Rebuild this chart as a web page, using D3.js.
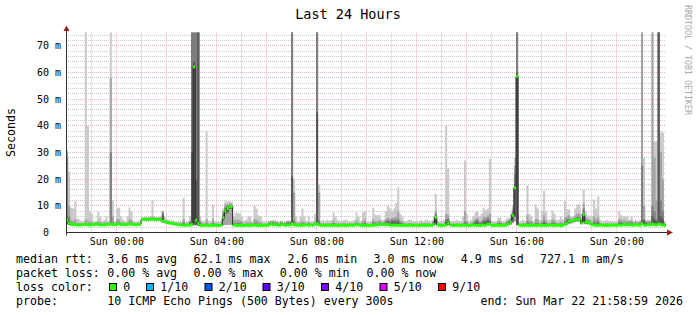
<!DOCTYPE html>
<html><head><meta charset="utf-8">
<script src="https://cdn.jsdelivr.net/npm/d3@7"></script>
<style>
html,body{margin:0;padding:0;background:#fff;}
svg{display:block;}
text{font-family:'DejaVu Sans Mono',monospace;white-space:pre;}
</style></head><body>
<svg id="chart" width="697" height="315"></svg>
<script>
// ---------- data (ms) ----------
const title = "Last 24 Hours";
const yAxisTitle = "Seconds";
const credit = "RRDTOOL / TOBI OETIKER";
const endTime = "2026-03-22T21:58:59Z";
const stepSeconds = 300;
const yTickValues = [0, 10, 20, 30, 40, 50, 60, 70];
const yTickLabels = ["0  ", "10 m", "20 m", "30 m", "40 m", "50 m", "60 m", "70 m"];
const xTickTimes = ["2026-03-22T00:00:00Z","2026-03-22T04:00:00Z","2026-03-22T08:00:00Z","2026-03-22T12:00:00Z","2026-03-22T16:00:00Z","2026-03-22T20:00:00Z"];
const xTickLabels = ["Sun 00:00","Sun 04:00","Sun 08:00","Sun 12:00","Sun 16:00","Sun 20:00"];

const median = [
4.5,3.6,3.0,2.9,3.0,2.8,2.8,2.9,3.0,3.1,2.9,2.8,
3.0,2.9,3.2,3.0,2.8,2.9,2.8,3.0,3.1,3.2,3.0,2.9,
3.1,3.3,3.0,3.1,2.9,3.0,3.2,3.1,3.0,2.9,3.0,3.1,
4.9,5.0,4.9,5.0,5.0,5.1,5.0,4.9,5.0,4.9,4.2,4.0,
3.8,3.6,3.5,3.3,3.2,3.0,2.9,2.8,2.7,2.7,2.8,2.7,
3.0,62.1,4.6,3.4,2.7,2.6,2.7,2.7,2.6,2.7,2.6,2.7,
2.7,2.6,2.8,5.5,8.0,9.0,9.6,9.8,2.8,2.7,2.6,2.7,
2.7,2.6,2.7,2.6,2.7,2.7,2.8,2.7,2.6,2.7,2.6,2.7,
2.7,2.8,3.4,2.9,3.0,2.8,2.7,3.3,2.8,2.7,2.9,2.8,
3.3,2.9,2.7,2.8,2.7,2.7,2.8,2.9,2.7,2.8,2.7,3.2,
3.3,2.8,2.7,2.7,2.6,2.7,2.7,2.6,2.7,2.7,2.6,2.7,
2.7,2.7,2.6,2.7,2.8,2.7,2.7,3.1,2.8,2.7,2.7,2.6,
2.7,2.6,2.7,2.7,2.8,2.9,3.0,3.1,3.0,2.9,3.0,2.8,
2.7,2.8,2.7,2.7,2.6,2.7,2.7,2.6,2.7,2.7,2.6,2.7,
2.7,2.6,2.7,2.7,2.6,2.7,2.7,2.6,3.0,5.6,2.8,2.7,
2.6,2.7,2.8,3.7,2.8,2.7,2.6,2.7,2.7,2.6,2.7,2.7,
2.7,2.6,2.7,2.8,2.7,2.7,2.6,2.7,2.8,2.7,3.2,3.0,
2.7,2.6,2.7,2.7,2.6,2.7,2.7,2.8,3.2,3.8,6.5,16.8,
58.6,2.8,2.7,2.6,2.7,2.7,2.6,2.7,2.7,2.6,2.7,2.7,
2.7,2.6,2.7,2.7,2.8,2.7,2.6,2.7,2.7,2.6,2.7,3.0,
3.5,4.2,4.2,4.5,4.9,4.9,4.9,3.7,6.7,3.9,3.8,3.5,
2.9,2.8,2.7,2.7,2.8,2.7,2.7,2.6,2.7,2.7,2.8,2.7,
2.7,2.8,2.7,2.9,3.0,2.8,3.1,2.8,2.7,2.9,2.8,2.7,
3.3,2.8,2.7,3.0,2.8,3.2,2.9,2.8,3.3,2.9,2.8,2.7];

const minPing = [
3.0,2.8,2.6,2.5,2.6,2.5,2.5,2.5,2.6,2.6,2.5,2.5,
2.6,2.5,2.7,2.6,2.5,2.5,2.5,2.6,2.6,2.7,2.6,2.5,
2.7,2.8,2.6,2.7,2.5,2.6,2.7,2.7,2.6,2.5,2.6,2.7,
4.4,4.5,4.4,4.5,4.5,4.6,4.5,4.4,4.5,4.4,3.6,3.5,
3.3,3.2,3.1,3.0,2.8,2.7,2.6,2.5,2.4,2.4,2.5,2.4,
2.6,2.7,2.7,2.5,2.4,2.3,2.4,2.4,2.3,2.4,2.3,2.4,
2.4,2.3,2.5,2.6,2.8,2.8,2.9,2.9,2.5,2.4,2.3,2.4,
2.4,2.3,2.4,2.3,2.4,2.4,2.5,2.4,2.3,2.4,2.3,2.4,
2.4,2.5,2.6,2.5,2.6,2.5,2.4,2.6,2.5,2.4,2.5,2.5,
2.6,2.5,2.4,2.5,2.4,2.4,2.5,2.5,2.4,2.5,2.4,2.6,
2.6,2.5,2.4,2.4,2.3,2.4,2.4,2.3,2.4,2.4,2.3,2.4,
2.4,2.4,2.3,2.4,2.5,2.4,2.4,2.6,2.5,2.4,2.4,2.3,
2.4,2.3,2.4,2.4,2.5,2.6,2.6,2.7,2.6,2.5,2.6,2.5,
2.4,2.5,2.4,2.4,2.3,2.4,2.4,2.3,2.4,2.4,2.3,2.4,
2.4,2.3,2.4,2.4,2.3,2.4,2.4,2.3,2.6,3.0,2.5,2.4,
2.3,2.4,2.5,2.8,2.5,2.4,2.3,2.4,2.4,2.3,2.4,2.4,
2.4,2.3,2.4,2.5,2.4,2.4,2.3,2.4,2.5,2.4,2.7,2.6,
2.4,2.3,2.4,2.4,2.3,2.4,2.4,2.5,2.7,2.9,3.5,4.0,
2.7,2.5,2.4,2.3,2.4,2.4,2.3,2.4,2.4,2.3,2.4,2.4,
2.4,2.3,2.4,2.4,2.5,2.4,2.3,2.4,2.4,2.3,2.4,2.6,
2.9,3.3,3.4,3.6,3.9,4.0,4.0,3.0,3.5,3.1,3.1,2.9,
2.6,2.5,2.4,2.4,2.5,2.4,2.4,2.3,2.4,2.4,2.5,2.4,
2.4,2.5,2.4,2.6,2.6,2.5,2.7,2.5,2.4,2.6,2.5,2.4,
2.8,2.5,2.4,2.6,2.5,2.7,2.6,2.5,2.8,2.6,2.5,2.4];

const lowPing = [
3.4,3.0,2.8,2.7,2.8,2.7,2.7,2.7,2.8,2.8,2.7,2.7,
2.8,2.7,2.9,2.8,2.7,2.7,2.7,2.8,2.8,2.9,2.8,2.7,
2.9,3.0,2.8,2.9,2.7,2.8,2.9,2.9,2.8,2.7,2.8,2.9,
4.6,4.7,4.6,4.7,4.7,4.8,4.7,4.6,4.7,4.6,3.8,3.7,
3.5,3.4,3.3,3.2,3.0,2.9,2.8,2.7,2.6,2.6,2.7,2.6,
2.8,2.9,2.9,2.7,2.6,2.5,2.6,2.6,2.5,2.6,2.5,2.6,
2.6,2.5,2.7,4.5,7.0,7.5,8.8,9.0,2.7,2.6,2.5,2.6,
2.6,2.5,2.6,2.5,2.6,2.6,2.7,2.6,2.5,2.6,2.5,2.6,
2.6,2.7,2.8,2.7,2.8,2.7,2.6,2.8,2.7,2.6,2.7,2.7,
2.8,2.7,2.6,2.7,2.6,2.6,2.7,2.7,2.6,2.7,2.6,2.8,
2.8,2.7,2.6,2.6,2.5,2.6,2.6,2.5,2.6,2.6,2.5,2.6,
2.6,2.6,2.5,2.6,2.7,2.6,2.6,2.8,2.7,2.6,2.6,2.5,
2.6,2.5,2.6,2.6,2.7,2.8,2.8,2.9,2.8,2.7,2.8,2.7,
2.6,2.7,2.6,2.6,2.5,2.6,2.6,2.5,2.6,2.6,2.5,2.6,
2.6,2.5,2.6,2.6,2.5,2.6,2.6,2.5,2.8,3.5,2.7,2.6,
2.5,2.6,2.7,3.0,2.7,2.6,2.5,2.6,2.6,2.5,2.6,2.6,
2.6,2.5,2.6,2.7,2.6,2.6,2.5,2.6,2.7,2.6,2.9,2.8,
2.6,2.5,2.6,2.6,2.5,2.6,2.6,2.7,2.9,3.2,4.5,6.0,
3.0,2.7,2.6,2.5,2.6,2.6,2.5,2.6,2.6,2.5,2.6,2.6,
2.6,2.5,2.6,2.6,2.7,2.6,2.5,2.6,2.6,2.5,2.6,2.8,
3.1,3.6,3.7,3.9,4.2,4.3,4.3,3.2,4.0,3.3,3.3,3.1,
2.7,2.7,2.6,2.6,2.7,2.6,2.6,2.5,2.6,2.6,2.7,2.6,
2.6,2.7,2.6,2.8,2.8,2.7,2.9,2.7,2.6,2.8,2.7,2.6,
3.0,2.7,2.6,2.8,2.7,2.9,2.8,2.7,3.0,2.8,2.7,2.6];

const ping7 = [
5,4,3.1,3.0,3.1,2.9,2.9,3.0,3.1,3.2,3.0,2.9,
3.1,3.0,3.3,3.1,2.9,3.0,2.9,3.1,3.2,3.3,3.1,3.0,
3.2,3.4,3.1,3.2,3.0,3.1,3.3,3.2,3.1,3.0,3.1,3.2,
5.0,5.1,5.0,5.1,5.1,5.2,5.1,5.0,5.1,5.0,6.5,4.1,
3.9,3.7,3.6,3.4,3.3,3.1,3.0,2.9,2.8,2.8,2.9,3.4,
30,64,20,80,3.2,2.7,2.8,2.8,2.7,2.8,2.7,2.8,
2.8,2.7,2.9,6,8.5,9.2,9.9,10,2.9,2.9,2.8,2.9,
2.8,2.7,2.8,2.7,2.8,2.8,3.0,2.8,2.7,2.8,2.7,2.8,
2.8,3.3,3.6,3.4,3.4,3.2,2.9,3.5,3.0,3.2,3.6,3.4,
21,3.2,2.8,2.9,2.8,2.8,2.9,3.0,2.8,2.9,2.8,3.3,
45,3.0,2.8,2.8,2.7,2.8,2.8,2.7,2.9,2.8,2.7,2.8,
2.8,2.8,2.7,2.8,2.9,2.8,2.8,3.2,2.9,2.8,2.9,3.0,
2.8,2.7,2.8,3.2,3.0,3.1,3.3,3.2,3.1,3.4,3.8,3.4,
4.0,4.0,3.6,4.0,3.2,3.0,2.8,2.7,2.8,2.8,2.7,2.8,
2.8,2.7,2.8,2.8,2.7,2.8,2.8,2.7,3.8,6,2.9,2.8,
2.7,2.8,4.0,4.5,2.9,2.8,2.7,2.8,2.8,2.7,2.8,3.2,
3.0,2.7,2.8,3.2,3.6,4.0,3.2,3.4,4.0,4.0,4.5,4.0,
2.8,2.7,2.8,3.2,3.2,2.8,2.8,3.2,3.8,4.5,7,18,
60,2.9,2.8,2.7,2.8,3.2,3.0,2.9,2.8,3.0,3.0,2.8,
3.0,3.5,3.0,2.8,2.9,3.2,3.0,2.8,2.8,2.9,2.8,3.4,
4.2,4.6,4.4,4.7,5.1,5.1,5.1,4.0,7,4.3,4.1,3.8,
3.1,3.5,3.3,3.5,2.9,2.8,2.8,2.7,2.8,2.8,2.9,2.8,
2.8,3.4,3.4,3.3,3.3,3.2,3.4,3.4,2.9,3.3,3.0,3.2,
4.5,4.2,3.4,3.4,3.3,6,5,4.2,80,6,5,3.0];

const ping8 = [
28,6,3.4,3.3,3.6,3.1,3.1,3.2,3.3,3.6,3.3,3.4,
3.4,3.2,3.5,3.4,3.2,3.2,3.2,3.4,3.4,30,3.8,3.2,
3.8,3.8,3.4,3.4,3.2,3.3,3.8,3.6,3.3,3.2,3.3,3.4,
5.2,5.2,5.2,5.2,5.3,5.5,5.2,5.2,5.2,5.2,7.5,4.4,
4.1,3.9,3.8,3.6,3.4,3.3,3.2,3.1,3.8,3.0,3.1,3.9,
80,80,80,80,3.8,3.0,3.0,3.5,3.0,3.0,3.6,3.0,
3.0,2.9,3.1,7,9.5,9.8,10.2,10.2,3.4,3.6,3.6,3.5,
3.4,3.0,3.2,3.1,3.2,3.0,3.6,3.5,3.2,3.1,3.0,3.0,
3.1,3.6,4.0,3.8,3.8,3.5,3.2,3.8,3.3,3.6,4.0,3.8,
80,4.5,3.2,3.1,3.2,3.5,3.1,3.1,3.1,3.1,3.0,3.6,
80,4.5,3.0,3.1,2.9,3.1,3.0,3.0,3.5,3.1,3.0,3.0,
3.0,3.1,3.0,3.0,3.1,3.0,3.1,3.6,3.1,3.0,3.4,3.6,
3.0,2.9,3.0,3.8,3.5,3.5,3.8,3.5,3.4,4.2,4.8,4.2,
4.8,4.8,4.8,5.0,3.8,3.4,3.0,2.9,3.0,3.0,2.9,3.0,
3.0,2.9,3.0,3.0,3.0,3.1,3.0,2.9,4.3,7,3.1,3.0,
2.9,3.0,5.0,5.2,3.1,3.0,2.9,3.0,3.0,2.9,3.0,4.0,
3.5,2.9,3.0,3.6,4.4,4.8,3.6,3.8,4.8,4.8,5.5,4.8,
3.0,2.9,3.0,3.6,3.6,3.0,3.0,3.6,4.2,5,8,22,
80,3.1,3.0,2.9,3.0,4.0,3.5,3.3,3.0,3.6,3.6,3.0,
3.6,4.5,3.6,3.0,3.1,3.8,3.5,3.0,3.0,3.3,3.0,4.0,
5.0,5.2,4.6,4.9,5.4,5.8,5.8,4.5,9,4.8,4.5,4.2,
3.4,4.2,3.8,4.2,3.1,3.0,3.0,2.9,3.0,3.0,3.1,3.0,
3.0,3.8,3.8,3.6,3.6,3.5,3.8,3.7,3.1,3.6,3.2,3.5,
25,5,3.8,3.8,3.6,10,8,5,80,12,8,3.2];

const ping9 = [
30,10,4.5,4.2,5,3.6,3.5,3.5,3.6,5,4.2,4.2,
4.0,3.5,3.8,4.2,3.8,3.5,3.8,3.8,3.6,58,6,3.5,
5,5,3.8,3.8,3.5,3.8,5,4.5,3.6,3.4,3.6,3.7,
5.4,5.4,5.5,5.4,5.5,6,5.5,5.4,5.4,5.5,8,4.8,
4.4,4.2,4.0,3.9,3.6,3.5,3.5,3.4,5,3.3,3.4,4.5,
80,80,80,80,4.5,3.4,3.4,5,3.4,3.4,5,3.4,
3.4,3.2,3.4,8,10.5,10.5,10.8,10.8,4.2,4.8,4.8,4.5,
4.2,3.4,3.8,3.8,3.8,3.4,5,4.8,4.2,3.8,3.4,3.3,
3.4,4.0,4.2,4.2,4.2,3.8,3.5,4.2,3.6,3.9,4.2,4.2,
80,15,3.8,3.5,3.8,4.2,3.8,3.5,3.8,3.5,3.4,4.2,
80,15,3.4,3.6,3.4,3.6,3.4,3.6,4.5,3.6,3.5,3.4,
3.4,3.6,3.6,3.4,3.4,3.4,3.6,4.5,3.6,3.4,4.5,5,
3.4,3.2,3.4,5,4.2,4.2,4.8,4,4,5,5.5,5,
5.5,5.5,6,8,4.5,4.2,3.5,3.4,3.6,3.6,3.4,3.4,
3.4,3.3,3.6,3.4,3.6,3.6,3.4,3.3,4.6,8,3.4,3.4,
3.3,3.6,7,6.5,3.4,3.4,3.3,3.6,3.4,3.3,3.6,8,
4.2,3.3,3.6,4.2,5,5.5,4.2,4.5,6,5.8,6.5,7,
3.4,3.3,3.4,4.2,4.2,3.4,3.4,4.2,4.6,5.5,9,25,
80,3.3,3.4,3.6,3.4,6.5,4.5,4.2,3.4,5,5,3.6,
4.5,6.5,4.5,3.6,3.6,5,4.5,3.6,3.6,4.0,3.6,5.5,
6,6.5,5,5.5,6.5,7,7,5.2,11,5.5,5.2,4.8,
3.8,6,5,6,3.6,3.4,3.4,3.6,3.4,3.4,3.3,3.3,
3.4,5,4.8,4.5,4.5,4.3,4.5,4.5,3.8,4.2,3.8,4.2,
80,10,4.2,4.2,4.2,80,28,12,80,30,20,3.6];

const maxPing = [
31,23,9.3,9,11.7,5.2,4.8,4.3,4.3,80,40,8,
7,4.3,4.2,7.6,6,4.3,4.8,6,4.3,80,12,4.2,
9,9.4,6,4.8,4.3,6,9.4,8,4.3,4.0,4.3,4.0,
5.8,5.7,6,5.8,6.2,12,6,5.8,5.8,6,8,6,
5.0,4.8,4.5,4.5,4.0,4.0,4.0,3.9,13,3.9,4.0,6,
80,80,80,80,6.3,4.3,4.3,38,4.3,4.3,10.5,4.3,
4.3,4.0,4.3,9,11.7,11.5,11.7,11.5,6,7.4,7.4,7,
6,4.3,4.8,6,6,4.3,10,9,6.5,6,4.3,4.0,
4.0,4.5,4.5,4.8,4.5,4.2,4.0,4.5,4.0,4.3,4.5,4.5,
80,20,6,4.3,6,9,6,4.3,6,4.3,4.3,7,
80,18,4.3,4.8,4.3,4.8,4.3,4.8,7.5,6,4.8,4.3,
4.3,4.8,4.8,4.3,4.3,4.3,4.8,7.5,6,4.3,7.5,8,
4.3,4.0,4.3,9.3,6.7,6.5,6.7,4.8,4.8,8,10,9,
8,9,11,17,7,6,4.3,4.3,4.8,4.8,4.3,4.3,
4.3,4.3,4.8,4.3,4.8,4.8,4.3,4.3,6,14.6,4.3,4.3,
4.3,4.8,40,24,4.3,4.3,4.3,4.8,4.3,4.3,6,27,
7,4.3,4.8,6,7.5,8,6,7,9.3,8.5,9,27.7,
4.3,4.3,4.3,5.6,5.6,4.3,4.3,5.3,5.3,7,10,28,
80,4.0,4.3,4.8,4.3,17.6,7,6,4.3,10.5,9,4.8,
8,15.7,8,4.8,4.8,8.3,7,4.8,4.8,6,4.8,11.7,
8.7,8.7,6,6,9,10.5,10.5,7,16,8,6.5,6,
6,12.4,9,13.6,4.8,4.3,4.3,4.8,4.3,4.3,4.0,4.0,
4.3,8,6.5,6,6,6,4.8,6,4.3,4.8,4.3,4.8,
80,28,4.8,4.8,4.8,80,34,34,80,37.5,37.5,4.3];

const legendRtt = ["median rtt:", "3.6 ms avg", "62.1 ms max", "2.6 ms min", "3.0 ms now", "4.9 ms sd", "727.1 m am/s"];
const legendLoss = ["packet loss:", "0.00 % avg", "0.00 % max", "0.00 % min", "0.00 % now"];
const lossTitle = "loss color:";
const lossLabels = ["0", "1/10", "2/10", "3/10", "4/10", "5/10", "9/10"];
const lossColors = ["#26ff00", "#00b8ff", "#0059ff", "#5e00ff", "#7e00ff", "#dd00ff", "#ff0000"];
const probeRow = ["probe:", "10 ICMP Echo Pings (500 Bytes) every 300s", "end: Sun Mar 22 21:58:59 2026"];

// ---------- drawing ----------
const svg = d3.select("#chart");
const W = 697, H = 315;
const L = 66, R = 666, T = 32.5, B = 232.5;
svg.append("rect").attr("width", W).attr("height", H).attr("fill", "#fff");

const tEnd = new Date(endTime);
const tStart = new Date(tEnd.getTime() - 24 * 3600 * 1000);
const x = d3.scaleUtc().domain([tStart, tEnd]).range([L, R]);
const y = d3.scaleLinear().domain([0, 0.075]).range([B, T]);
const snap = v => Math.floor(v) + 0.5;

// grid
const grid = svg.append("g");
const minorY = d3.range(0.002, 0.0751, 0.002).filter(v => Math.round(v * 1000) % 10 !== 0);
const majorY = d3.range(0.01, 0.0751, 0.01);
const minorCol = "#c8c8c8", majorCol = "#f0b0b0";
grid.selectAll(".gy").data(minorY).join("line")
  .attr("x1", L).attr("x2", R).attr("y1", d => snap(y(d))).attr("y2", d => snap(y(d)))
  .attr("stroke", minorCol).attr("stroke-dasharray", "1,1");
const hours = d3.utcHour.range(tStart, tEnd);
grid.selectAll(".gx").data(hours.filter(h => h.getUTCHours() % 2 === 1)).join("line")
  .attr("x1", d => snap(x(d))).attr("x2", d => snap(x(d))).attr("y1", T).attr("y2", B)
  .attr("stroke", minorCol).attr("stroke-dasharray", "1,1");
grid.selectAll(".my").data(majorY).join("line")
  .attr("x1", L).attr("x2", R).attr("y1", d => snap(y(d))).attr("y2", d => snap(y(d)))
  .attr("stroke", majorCol).attr("stroke-dasharray", "1,1");
grid.selectAll(".mx").data(hours.filter(h => h.getUTCHours() % 2 === 0)).join("line")
  .attr("x1", d => snap(x(d))).attr("x2", d => snap(x(d))).attr("y1", T).attr("y2", B)
  .attr("stroke", majorCol).attr("stroke-dasharray", "1,1");

// clip
svg.append("clipPath").attr("id", "plot").append("rect")
  .attr("x", L).attr("y", T).attr("width", R - L).attr("height", B - T);
const plot = svg.append("g").attr("clip-path", "url(#plot)");

const n = median.length;
const pts = d3.range(n + 1).map(k => ({ t: new Date(tStart.getTime() + k * stepSeconds * 1000), i: Math.min(k, n - 1) }));
const ms = v => v / 1000;
function band(lo, hi, color) {
  const a = d3.area().curve(d3.curveStepAfter)
    .x(d => x(d.t)).y0(d => y(ms(lo[d.i]))).y1(d => y(ms(hi[d.i])));
  plot.append("path").attr("d", a(pts)).attr("fill", color);
}
band(minPing, maxPing, "#cacaca");
band(minPing, ping9, "#a4a4a4");
band(lowPing, ping8, "#7e7e7e");
band(lowPing, ping7, "#585858");

// median: dark connecting line + loss-coloured blocks
const ml = d3.line().curve(d3.curveStepAfter).x(d => x(d.t)).y(d => y(ms(median[d.i])));
plot.append("path").attr("d", ml(pts)).attr("fill", "none").attr("stroke", "#202020").attr("stroke-width", 1);
const ma = d3.area().curve(d3.curveStepAfter).x(d => x(d.t))
  .y0(d => y(ms(median[d.i])) + 1.5).y1(d => y(ms(median[d.i])) - 1.5);
plot.append("path").attr("d", ma(pts)).attr("fill", lossColors[0]);

// axes
const axisCol = "#303030", arrowCol = "#9b1c1c";
svg.append("line").attr("x1", L).attr("x2", R + 1).attr("y1", B).attr("y2", B).attr("stroke", axisCol);
svg.append("line").attr("x1", L + 0.5).attr("x2", L + 0.5).attr("y1", B + 3).attr("y2", T - 2).attr("stroke", axisCol);
svg.append("path").attr("d", `M${L - 2.5},${T - 1.5}L${L + 3.5},${T - 1.5}L${L + 0.5},${T - 7}Z`).attr("fill", arrowCol);
svg.append("path").attr("d", `M${R + 1},${B - 3}L${R + 1},${B + 3}L${R + 7},${B}Z`).attr("fill", arrowCol);

// y labels
svg.append("g").selectAll("text").data(yTickValues).join("text")
  .attr("x", 61).attr("y", d => y(ms(d)) + 3.5).attr("text-anchor", "end")
  .attr("font-size", 10).attr("fill", "#000").text((d, i) => yTickLabels[i]);
// x labels
svg.append("g").selectAll("text").data(xTickTimes).join("text")
  .attr("x", d => x(new Date(d)) + 0.5).attr("y", 244.5).attr("text-anchor", "middle")
  .attr("font-size", 10).attr("fill", "#000").text((d, i) => xTickLabels[i]);

// titles
svg.append("text").attr("x", 348).attr("y", 18.5).attr("text-anchor", "middle")
  .attr("font-size", 13.5).text(title);
svg.append("text").attr("transform", "translate(15,132.5) rotate(-90)").attr("text-anchor", "middle")
  .attr("font-size", 11.6).text(yAxisTitle);
svg.append("text").attr("transform", "translate(685,5) rotate(90)")
  .attr("font-size", 8.3).attr("fill", "#a8a8a8").text(credit);

// legend
const lg = svg.append("g").attr("font-size", 11.6).attr("fill", "#000");
const rowY = [263, 277, 291, 305];
const rttX = [16, 107.3, 193.6, 287.4, 373.6, 460.8, 540];
legendRtt.forEach((s, k) => lg.append("text").attr("x", rttX[k]).attr("y", rowY[0]).text(s));
const lossX = [16, 107.3, 193.6, 279.8, 366.5];
legendLoss.forEach((s, k) => lg.append("text").attr("x", lossX[k]).attr("y", rowY[1]).text(s));
lg.append("text").attr("x", 16).attr("y", rowY[2]).text(lossTitle);
const boxX = [109, 146, 204.5, 262.5, 321, 379.5, 438];
lossLabels.forEach((s, k) => {
  lg.append("rect").attr("x", boxX[k] + 0.5).attr("y", 283.5).attr("width", 7).attr("height", 7)
    .attr("fill", lossColors[k]).attr("stroke", "#000").attr("stroke-width", 1);
  lg.append("text").attr("x", boxX[k] + 14.2).attr("y", rowY[2]).text(s);
});
const probeX = [16, 107.3, 480.5];
probeRow.forEach((s, k) => lg.append("text").attr("x", probeX[k]).attr("y", rowY[3]).text(s));
</script>
</body></html>
